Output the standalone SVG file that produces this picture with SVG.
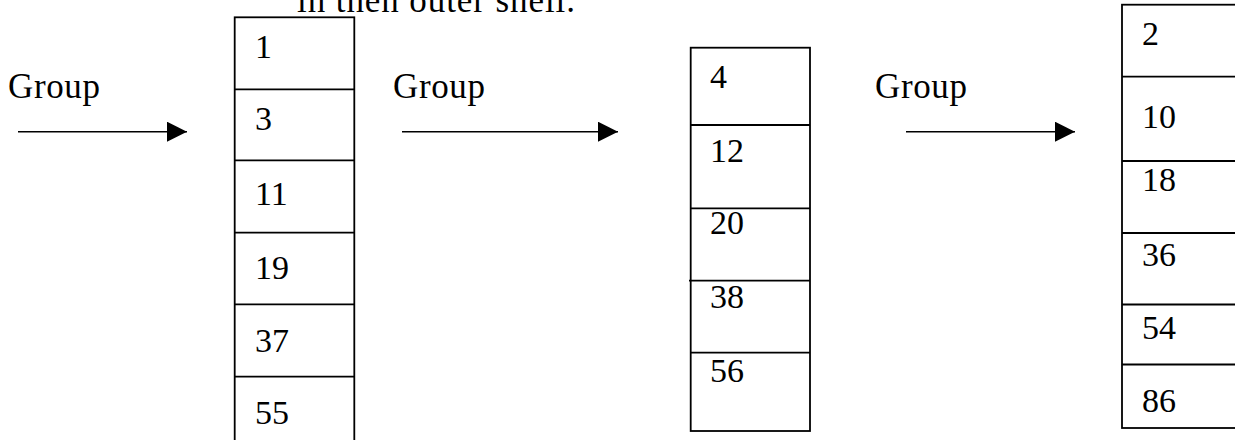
<svg xmlns="http://www.w3.org/2000/svg" width="1235" height="440" viewBox="0 0 1235 440">
  <style>
    text { font-family: "Liberation Serif", "Times New Roman", serif; font-size: 35px; fill: #000; }
    .num { font-size: 34px; }
    .cell { fill: #fff; stroke: #000; stroke-width: 1.8; }
    .div { stroke: #000; stroke-width: 1.8; }
    .arrow { stroke: #000; stroke-width: 1.5; fill: none; }
  </style>
  <defs>
    <marker id="head" markerWidth="20" markerHeight="20" refX="20" refY="10" orient="auto" markerUnits="userSpaceOnUse">
      <path d="M0,0 L20,10 L0,20 Z" fill="#000"/>
    </marker>
  </defs>
  <rect width="1235" height="440" fill="#fff"/>

  <!-- heading line, cut by the top edge -->
  <text id="heading" x="297" y="12" textLength="278" lengthAdjust="spacing">in then outer shell.</text>

  <!-- labels above the arrows -->
  <g id="labels">
    <text x="8" y="98" textLength="92" lengthAdjust="spacing">Group</text>
    <text x="393" y="98" textLength="92" lengthAdjust="spacing">Group</text>
    <text x="875" y="98" textLength="92" lengthAdjust="spacing">Group</text>
  </g>

  <!-- connectors -->
  <g id="connectors">
    <line class="arrow" x1="18" y1="131.7" x2="187" y2="131.7" marker-end="url(#head)"/>
    <line class="arrow" x1="402" y1="131.7" x2="618" y2="131.7" marker-end="url(#head)"/>
    <line class="arrow" x1="906" y1="131.7" x2="1075" y2="131.7" marker-end="url(#head)"/>
  </g>

  <!-- first column -->
  <g id="column1" class="num">
    <rect class="cell" x="234.7" y="17.3" width="119.6" height="430"/>
    <line class="div" x1="234.7" y1="89.3" x2="354.3" y2="89.3"/>
    <line class="div" x1="234.7" y1="160.3" x2="354.3" y2="160.3"/>
    <line class="div" x1="234.7" y1="232.7" x2="354.3" y2="232.7"/>
    <line class="div" x1="234.7" y1="304.3" x2="354.3" y2="304.3"/>
    <line class="div" x1="234.7" y1="376.7" x2="354.3" y2="376.7"/>
    <text class="num" x="255" y="57.5">1</text>
    <text class="num" x="255" y="130">3</text>
    <text class="num" x="255" y="205">11</text>
    <text class="num" x="255" y="279">19</text>
    <text class="num" x="255" y="352">37</text>
    <text class="num" x="255" y="424">55</text>
  </g>

  <!-- second column -->
  <g id="column2">
    <rect class="cell" x="690.7" y="47.7" width="119.3" height="383.3"/>
    <line class="div" x1="690.7" y1="125" x2="810" y2="125"/>
    <line class="div" x1="690.7" y1="208.3" x2="810" y2="208.3"/>
    <line class="div" x1="689" y1="280.7" x2="810" y2="280.7"/>
    <line class="div" x1="690.7" y1="352.7" x2="810" y2="352.7"/>
    <text class="num" x="710" y="88">4</text>
    <text class="num" x="710" y="162">12</text>
    <text class="num" x="710" y="234">20</text>
    <text class="num" x="710" y="308">38</text>
    <text class="num" x="710" y="382">56</text>
  </g>

  <!-- third column, running past the right edge -->
  <g id="column3">
    <rect class="cell" x="1122" y="4.7" width="130" height="423.3"/>
    <line class="div" x1="1122" y1="76.7" x2="1240" y2="76.7"/>
    <line class="div" x1="1122" y1="161" x2="1240" y2="161"/>
    <line class="div" x1="1122" y1="233" x2="1240" y2="233"/>
    <line class="div" x1="1122" y1="304.5" x2="1240" y2="304.5"/>
    <line class="div" x1="1122" y1="364.5" x2="1240" y2="364.5"/>
    <text class="num" x="1142" y="45">2</text>
    <text class="num" x="1142" y="127.7">10</text>
    <text class="num" x="1142" y="190.7">18</text>
    <text class="num" x="1142" y="265.7">36</text>
    <text class="num" x="1142" y="339.3">54</text>
    <text class="num" x="1142" y="411.7">86</text>
  </g>
</svg>
